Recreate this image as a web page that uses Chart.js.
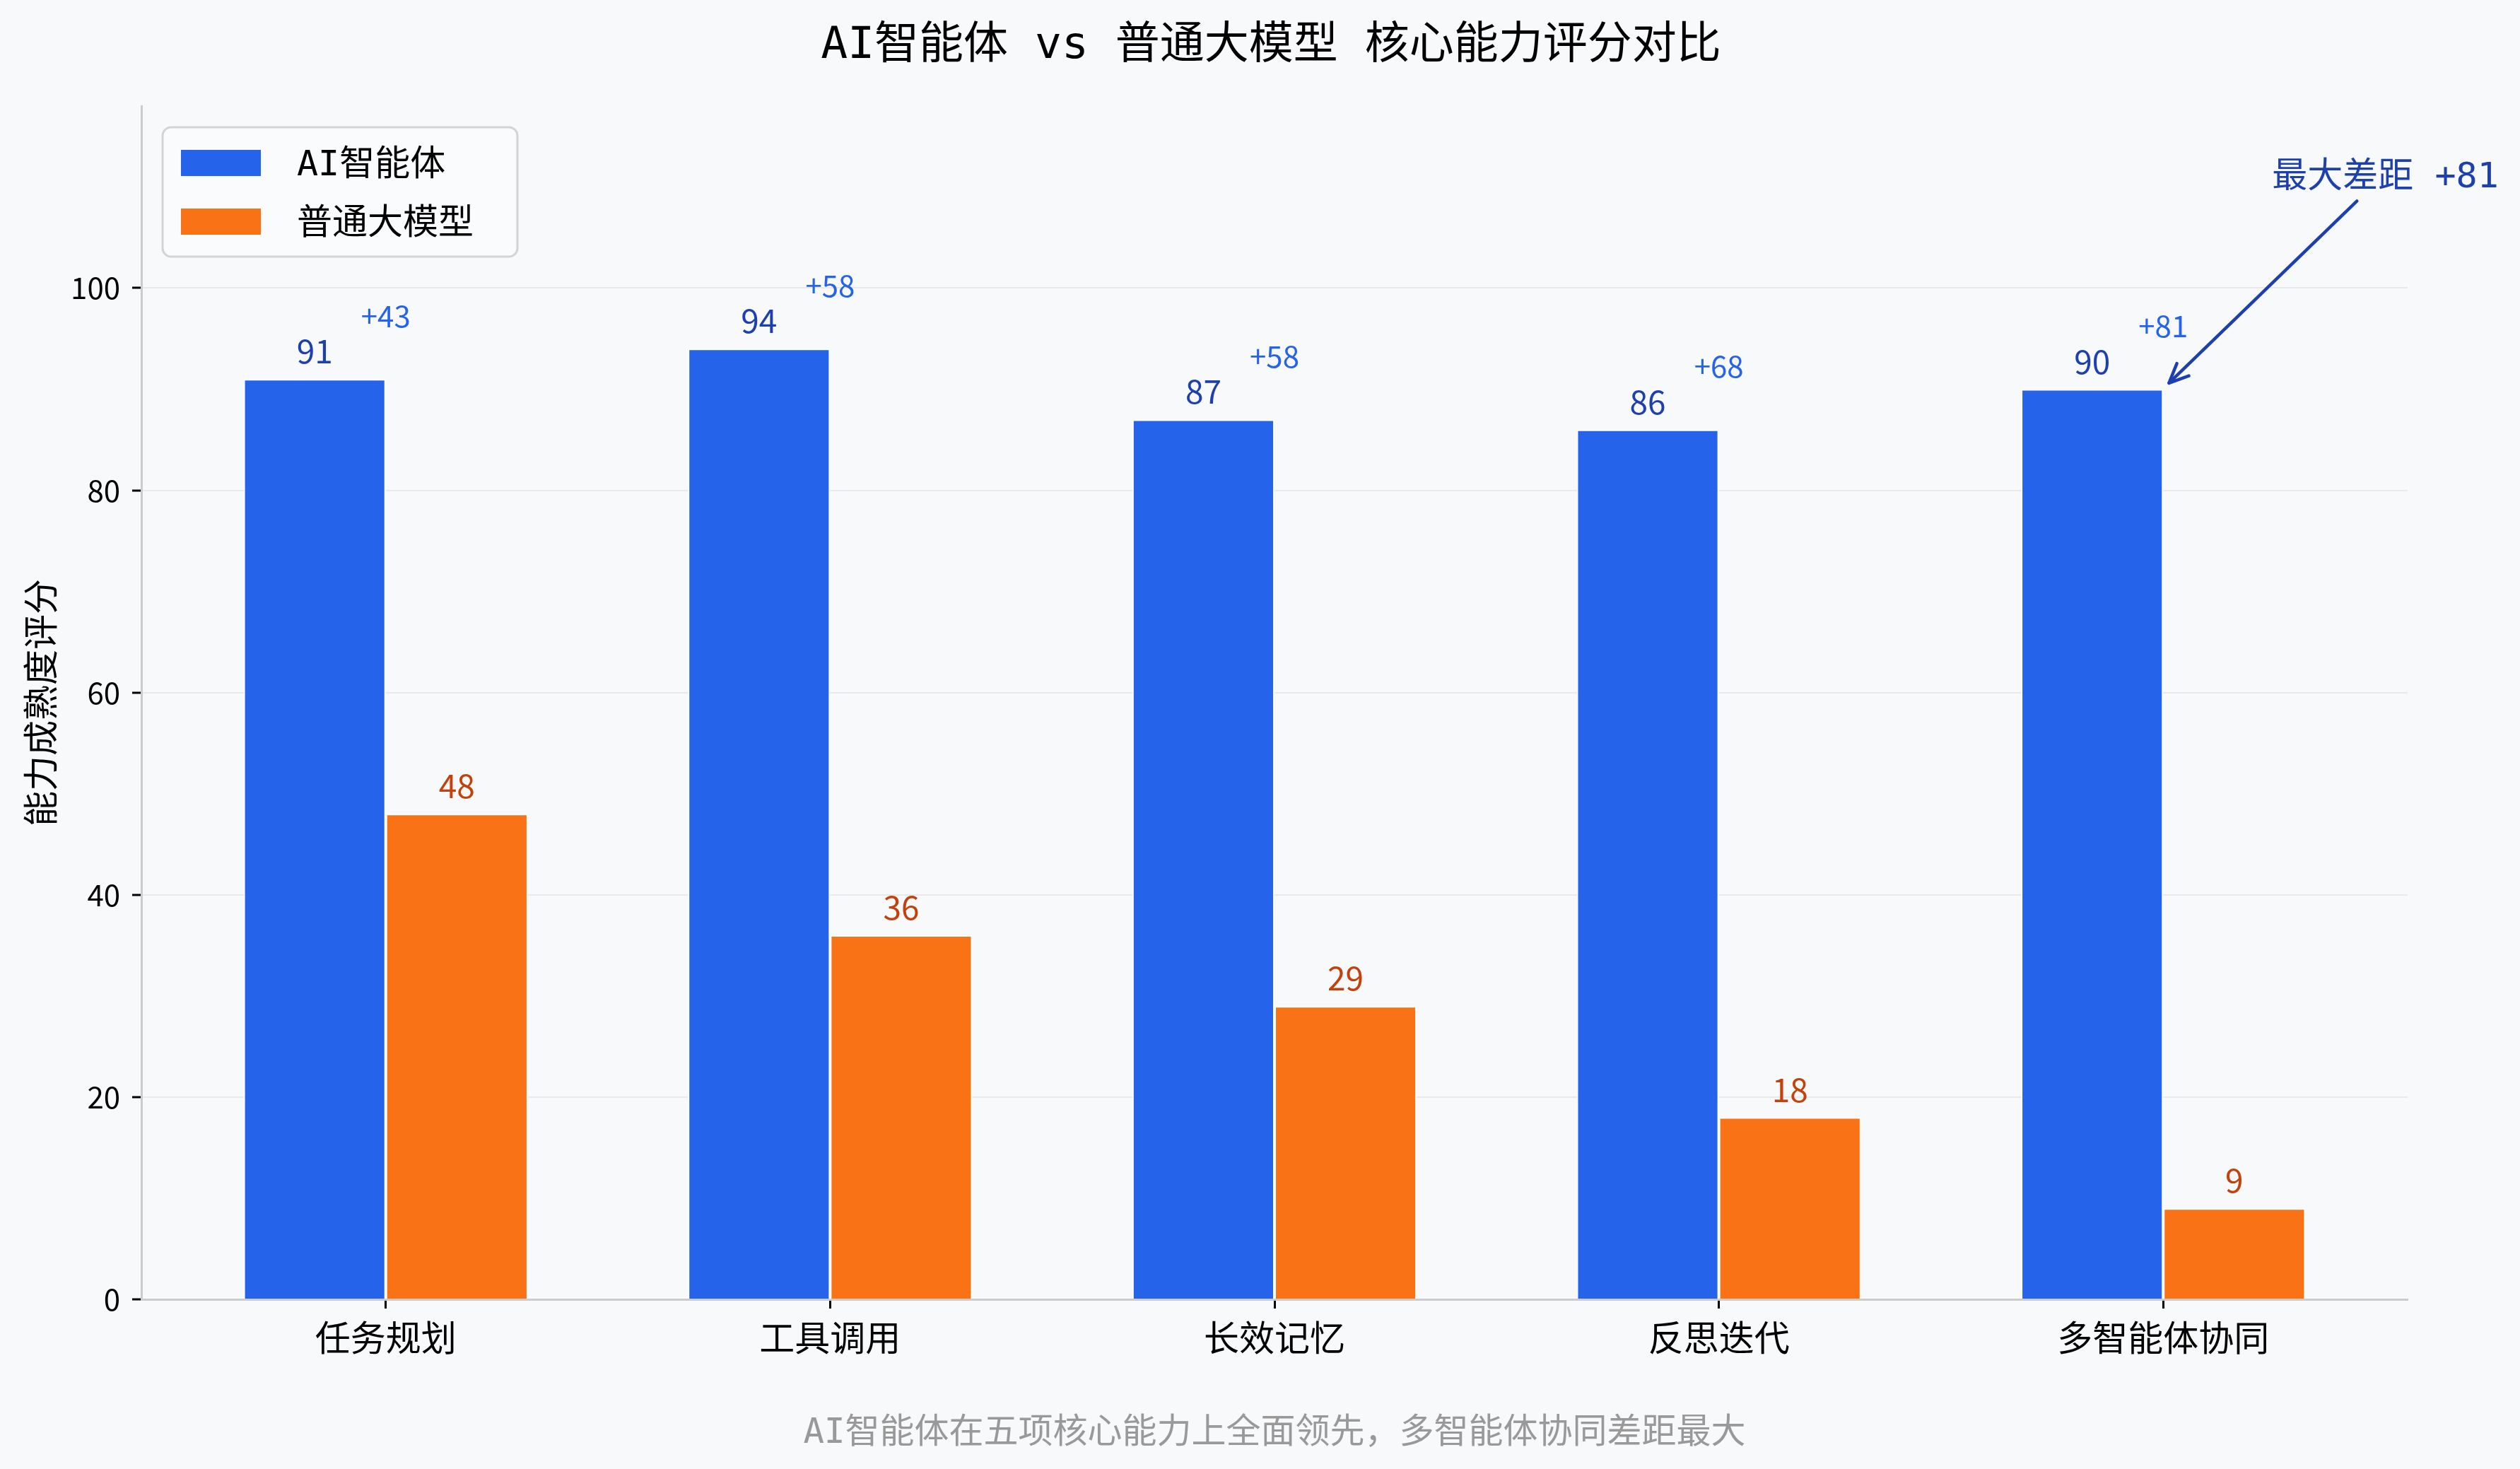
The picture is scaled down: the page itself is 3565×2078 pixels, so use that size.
<!DOCTYPE html>
<html>
<head>
<meta charset="utf-8">
<script src="https://cdn.jsdelivr.net/npm/chart.js@4.4.1/dist/chart.umd.min.js"></script>
<style>
html,body{margin:0;padding:0;background:#f8f9fb;}
canvas{display:block;}
</style>
</head>
<body>
<canvas id="c" width="3565" height="2078" style="width:3565px;height:2078px"></canvas>
<script>
// ---- data ----
const categories = ['任务规划', '工具调用', '长效记忆', '反思迭代', '多智能体协同'];
const agentScores = [91, 94, 87, 86, 90];
const llmScores = [48, 36, 29, 18, 9];
const seriesNames = ['AI智能体', '普通大模型'];
const yTickValues = [0, 20, 40, 60, 80, 100];
const yMax = 118;
const xMin = -0.55, xMax = 4.55;
const titleText = 'AI智能体 vs 普通大模型 核心能力评分对比';
const yAxisTitle = '能力成熟度评分';
const footnoteText = 'AI智能体在五项核心能力上全面领先，多智能体协同差距最大';
const annotationText = '最大差距 +81';
const annotationTextPos = [4.5, 110.9];
const annotationArrowFrom = [4.436, 108.6];
const annotationArrowTo = [4.013, 90.6];
const gapLabels = agentScores.map((v, i) => '+' + (v - llmScores[i]));

const FONT = "'Noto Sans CJK SC', 'Noto Sans', sans-serif";
const MIXFONT = "'DejaVu Sans Mono', 'Noto Sans CJK SC', sans-serif";
const BG = '#f8f9fb';
const barColors = ['#2563eb', '#f97316'];
const valueColors = ['#1e40af', '#c2410c'];

const decor = {
  id: 'decor',
  beforeDraw(chart) {
    const c = chart.ctx;
    c.save();
    c.fillStyle = BG;
    c.fillRect(0, 0, chart.width, chart.height);
    c.restore();
  },
  afterDatasetsDraw(chart) {
    const c = chart.ctx, xs = chart.scales.x, ys = chart.scales.y;
    c.save();
    c.textAlign = 'center';
    c.textBaseline = 'alphabetic';
    chart.data.datasets.forEach((ds, di) => {
      const meta = chart.getDatasetMeta(di);
      c.font = `46px ${FONT}`;
      c.fillStyle = valueColors[di];
      meta.data.forEach((bar, i) => {
        c.fillText(String(ds.data[i].y), bar.x, bar.y - 22);
      });
    });
    c.font = `42px ${FONT}`;
    c.fillStyle = '#2563eb';
    categories.forEach((_, i) => {
      const top = Math.max(agentScores[i], llmScores[i]);
      c.fillText(gapLabels[i], xs.getPixelForValue(i), ys.getPixelForValue(top + 5) - 2);
    });
    // annotation
    c.font = `50px ${MIXFONT}`;
    c.fillStyle = '#1e40af';
    c.textBaseline = 'middle';
    c.fillText(annotationText, xs.getPixelForValue(annotationTextPos[0]), ys.getPixelForValue(annotationTextPos[1]));
    const x1 = xs.getPixelForValue(annotationArrowFrom[0]), y1 = ys.getPixelForValue(annotationArrowFrom[1]);
    const x2 = xs.getPixelForValue(annotationArrowTo[0]), y2 = ys.getPixelForValue(annotationArrowTo[1]);
    c.strokeStyle = '#1e40af';
    c.lineWidth = 4.5;
    c.lineCap = 'round';
    c.lineJoin = 'round';
    c.beginPath();
    c.moveTo(x1, y1);
    c.lineTo(x2, y2);
    c.stroke();
    const ang = Math.atan2(y2 - y1, x2 - x1);
    const L = 30, spread = 0.42;
    c.beginPath();
    c.moveTo(x2 - L * Math.cos(ang - spread), y2 - L * Math.sin(ang - spread));
    c.lineTo(x2, y2);
    c.lineTo(x2 - L * Math.cos(ang + spread), y2 - L * Math.sin(ang + spread));
    c.stroke();
    c.restore();
  },
  afterDraw(chart) {
    const c = chart.ctx, a = chart.chartArea;
    c.save();
    // title
    c.textAlign = 'center';
    c.textBaseline = 'middle';
    c.fillStyle = '#000000';
    c.font = `63px ${MIXFONT}`;
    c.fillText(titleText, (a.left + a.right) / 2 - 5, 66);
    // footnote
    c.fillStyle = '#999999';
    c.font = `49px ${MIXFONT}`;
    c.fillText(footnoteText, (a.left + a.right) / 2, 2028);
    // legend
    const bx = a.left + 30, by = a.top + 30, bw = 502, bh = 183, r = 12;
    c.beginPath();
    c.moveTo(bx + r, by);
    c.lineTo(bx + bw - r, by);
    c.arcTo(bx + bw, by, bx + bw, by + r, r);
    c.lineTo(bx + bw, by + bh - r);
    c.arcTo(bx + bw, by + bh, bx + bw - r, by + bh, r);
    c.lineTo(bx + r, by + bh);
    c.arcTo(bx, by + bh, bx, by + bh - r, r);
    c.lineTo(bx, by + r);
    c.arcTo(bx, by, bx + r, by, r);
    c.closePath();
    c.fillStyle = 'rgba(250,251,252,0.85)';
    c.fill();
    c.strokeStyle = '#d4d4d4';
    c.lineWidth = 3;
    c.stroke();
    c.textAlign = 'left';
    c.font = `50px ${MIXFONT}`;
    chart.data.datasets.forEach((ds, i) => {
      const sy = by + 32 + i * 83;
      c.fillStyle = ds.backgroundColor;
      c.fillRect(bx + 26, sy, 113, 37);
      c.fillStyle = '#000000';
      c.fillText(ds.label, bx + 190, sy + 23);
    });
    c.restore();
  }
};

new Chart(document.getElementById('c').getContext('2d'), {
  type: 'bar',
  data: {
    datasets: [
      {
        label: seriesNames[0],
        data: categories.map((_, i) => ({ x: i, y: agentScores[i] })),
        backgroundColor: barColors[0],
        borderColor: '#ffffff',
        borderWidth: 2,
        borderSkipped: 'start'
      },
      {
        label: seriesNames[1],
        data: categories.map((_, i) => ({ x: i, y: llmScores[i] })),
        backgroundColor: barColors[1],
        borderColor: '#ffffff',
        borderWidth: 2,
        borderSkipped: 'start'
      }
    ]
  },
  options: {
    responsive: false,
    devicePixelRatio: 1,
    animation: false,
    categoryPercentage: 0.64,
    barPercentage: 1,
    layout: { padding: { left: 0, right: 159, top: 150, bottom: 0 } },
    plugins: { legend: { display: false }, title: { display: false }, tooltip: { enabled: false } },
    scales: {
      x: {
        type: 'linear',
        min: xMin,
        max: xMax,
        offset: false,
        afterBuildTicks: s => { s.ticks = categories.map((_, i) => ({ value: i })); },
        ticks: {
          callback: v => categories[v],
          font: { family: FONT, size: 50 },
          color: '#000000',
          padding: 11,
          maxRotation: 0,
          autoSkip: false
        },
        grid: { offset: false, drawOnChartArea: false, drawTicks: true, tickLength: 13, tickColor: '#000000', tickWidth: 3 },
        border: { color: '#cccccc', width: 3 },
        afterFit: s => { s.height = 240; }
      },
      y: {
        min: 0,
        max: yMax,
        afterBuildTicks: s => { s.ticks = yTickValues.map(v => ({ value: v })); },
        ticks: { font: { family: FONT, size: 42 }, color: '#000000', padding: 17 },
        grid: { color: '#e9e9e9', lineWidth: 2, tickLength: 13, tickColor: '#000000', tickWidth: 3 },
        border: { color: '#cccccc', width: 3 },
        title: { display: true, text: yAxisTitle, font: { family: FONT, size: 50 }, color: '#000000', padding: { top: 27, bottom: 0 } },
        afterFit: s => { s.width = 200; }
      }
    }
  },
  plugins: [decor]
});
</script>
</body>
</html>
